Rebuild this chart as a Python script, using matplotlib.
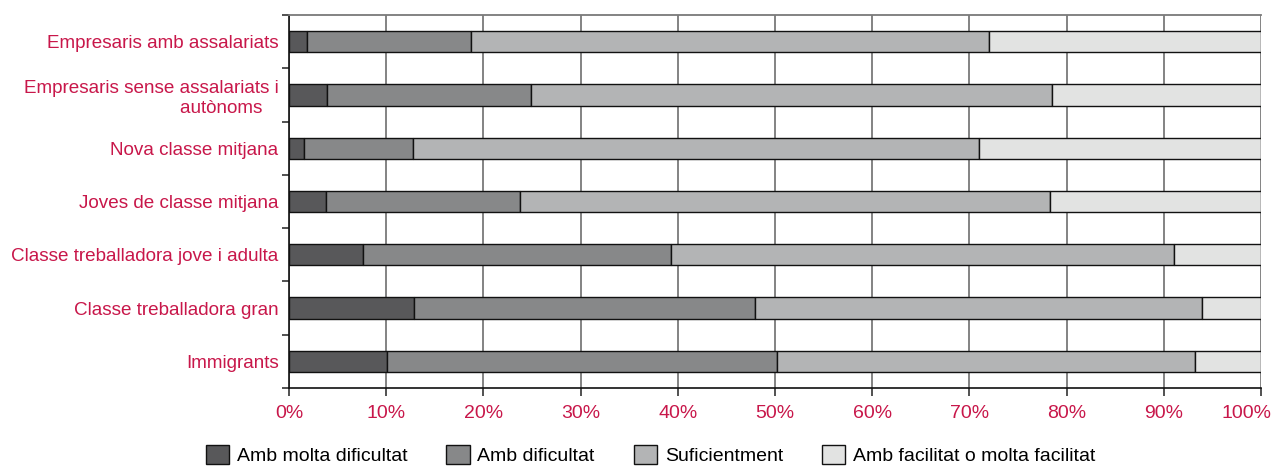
import matplotlib.pyplot as plt
import matplotlib.transforms as mtransforms
import numpy as np

plt.rcParams['font.family'] = ['Liberation Sans', 'DejaVu Sans']

# categories (top to bottom)
groups = ["Empresaris amb assalariats",
          "Empresaris sense assalariats i\nautònoms   ",
          "Nova classe mitjana",
          "Joves de classe mitjana",
          "Classe treballadora jove i adulta",
          "Classe treballadora gran",
          "Immigrants"]

series_names = ["Amb molta dificultat", "Amb dificultat",
                "Suficientment", "Amb facilitat o molta facilitat"]

# percentages
molta_dificultat = [1.9, 3.9, 1.5, 3.8, 7.6, 12.9, 10.1]
dificultat = [16.8, 21.0, 11.3, 20.0, 31.7, 35.0, 40.1]
suficientment = [53.3, 53.6, 58.2, 54.5, 51.7, 46.0, 43.0]
facilitat = [28.0, 21.5, 29.0, 21.7, 9.0, 6.1, 6.8]

colors = ['#58585a', '#878889', '#b3b4b5', '#e2e3e2']
red = '#c8174a'

fig = plt.figure(figsize=(12.73, 4.66), dpi=100)
ax = fig.add_axes([0.227, 0.1674, 0.7636, 0.8004])

y = np.arange(len(groups))
left = np.zeros(len(groups))
for vals, name, c in zip([molta_dificultat, dificultat, suficientment, facilitat],
                         series_names, colors):
    ax.barh(y, vals, left=left, height=0.4, color=c, edgecolor='#111111',
            linewidth=1.0, label=name, zorder=3)
    left += np.array(vals)

ax.set_xlim(0, 100)
ax.set_ylim(len(groups) - 0.5, -0.5)

ax.set_xticks(np.arange(0, 101, 10))
ax.set_xticklabels([f"{v}%" for v in range(0, 101, 10)])
ax.set_yticks(y)
ax.set_yticklabels(groups)
ax.set_yticks(np.arange(-0.5, len(groups), 1), minor=True)

ax.tick_params(axis='y', which='major', length=0, pad=7.5, labelsize=13.6, labelcolor=red)
ax.tick_params(axis='y', which='minor', length=5, width=1.2, color='#333333')
ax.tick_params(axis='x', length=6, width=1.2, pad=6, labelsize=14, labelcolor=red, color='#333333')

# last x label sits a bit left so it stays inside the figure
last = ax.get_xticklabels()[-1]
last.set_transform(last.get_transform() +
                   mtransforms.ScaledTranslation(-15 / 100, 0, fig.dpi_scale_trans))

ax.grid(axis='x', color='#7a7a7a', linewidth=1.3, zorder=0)
ax.set_axisbelow(True)

ax.spines['right'].set_visible(False)
ax.spines['top'].set_color('#7a7a7a')
ax.spines['top'].set_linewidth(1.3)
ax.spines['left'].set_color('#111111')
ax.spines['bottom'].set_color('#111111')
ax.spines['left'].set_linewidth(1.2)
ax.spines['bottom'].set_linewidth(1.2)

fig.legend(loc='center', bbox_to_anchor=(0.511, 0.024), ncol=4, frameon=False,
           fontsize=14, handlelength=1.2, handleheight=1.2, handletextpad=0.4,
           columnspacing=2.0, borderaxespad=0)

fig.savefig('out.png', dpi=100)
